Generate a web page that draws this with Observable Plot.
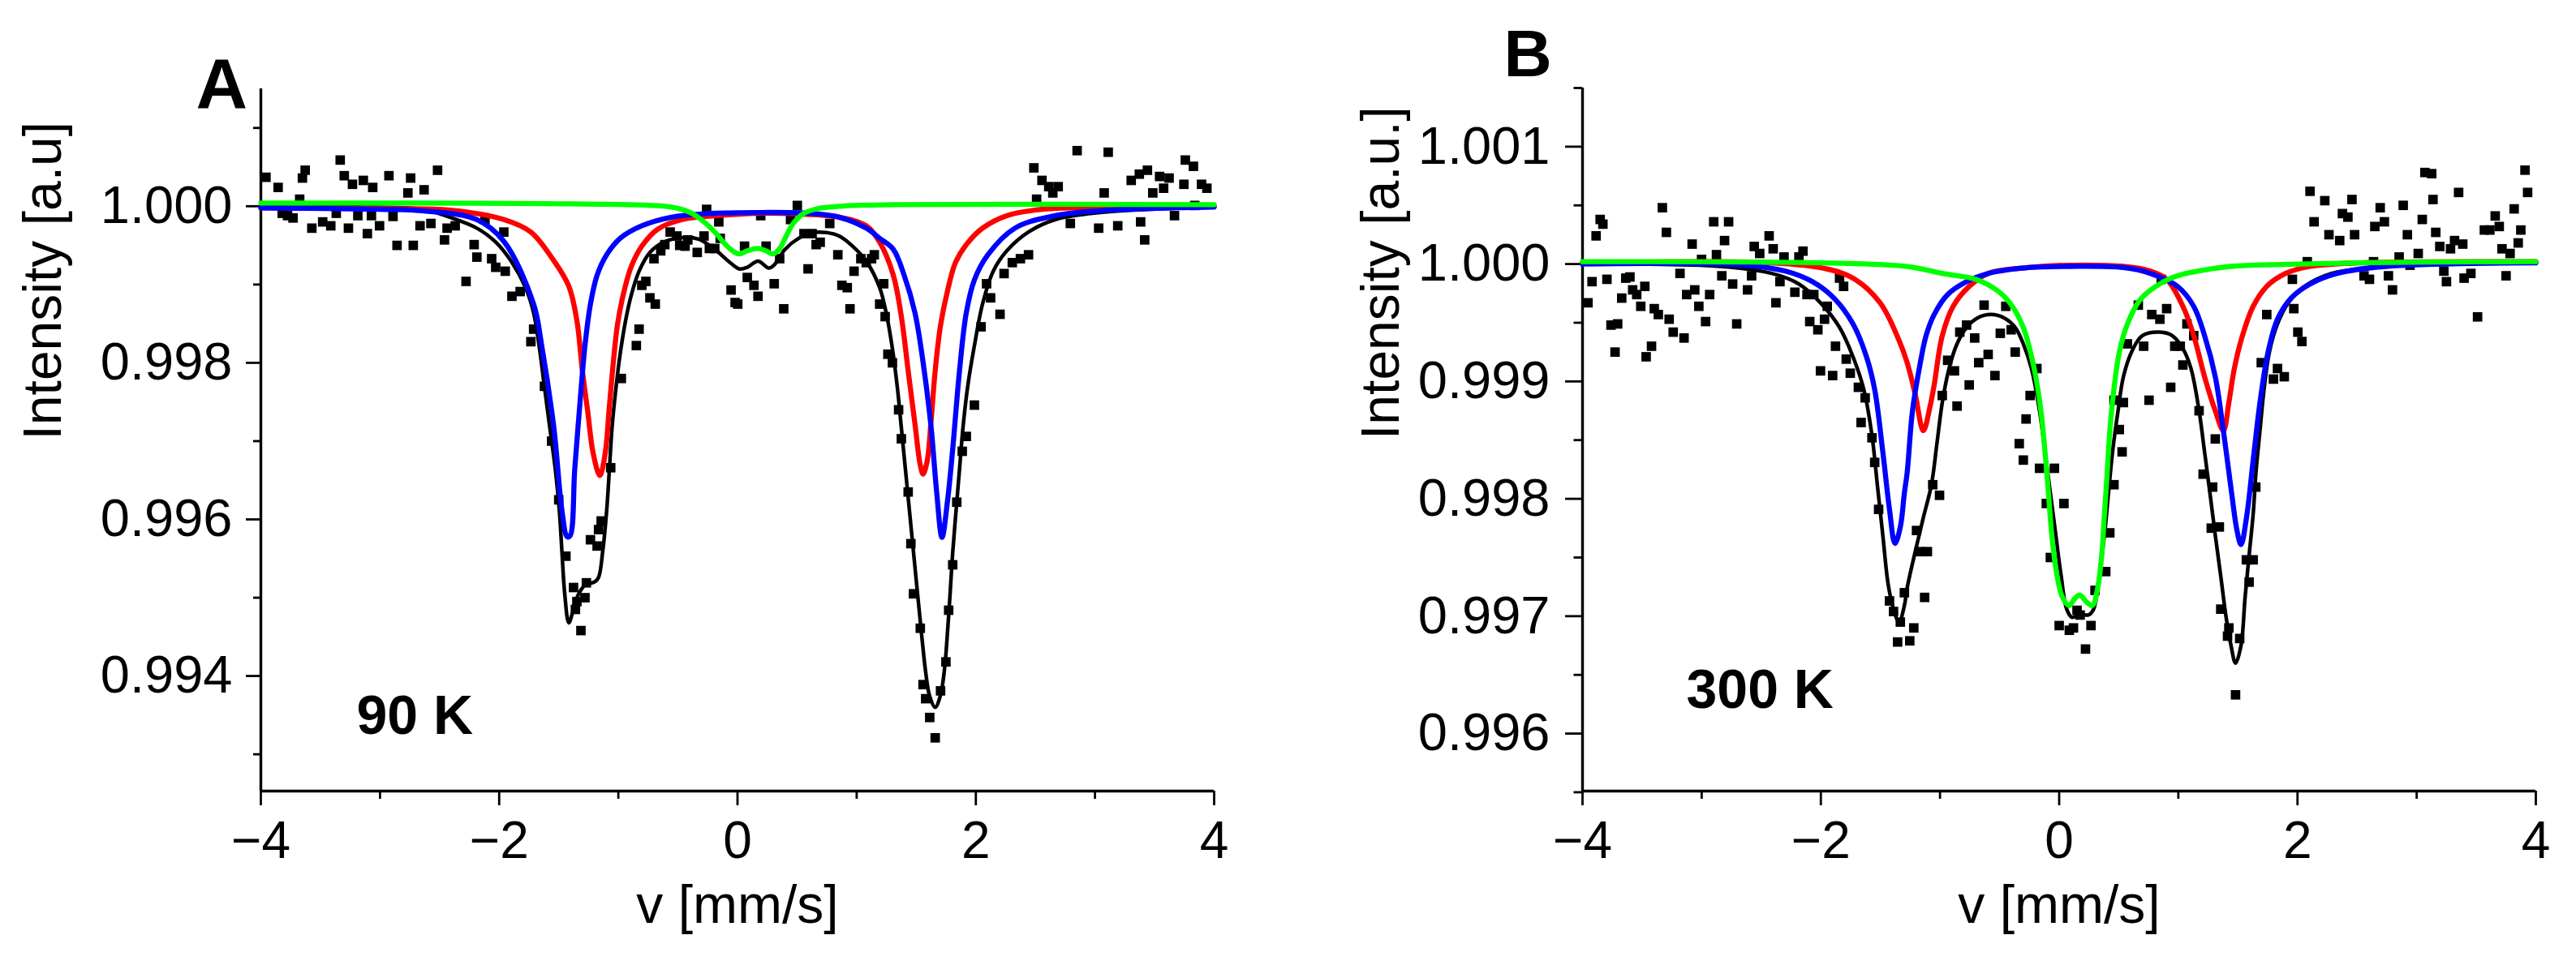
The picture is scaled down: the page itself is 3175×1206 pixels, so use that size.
<!DOCTYPE html>
<html>
<head>
<meta charset="utf-8">
<script src="https://cdn.jsdelivr.net/npm/d3@7"></script>
<script src="https://cdn.jsdelivr.net/npm/@observablehq/plot@0.6"></script>
<style>
  body { margin: 0; background: #fff; }
  #wrap { position: relative; width: 3175px; height: 1206px; }
  #chartA, #chartB { position: absolute; top: 0; }
  #chartA { left: 0; }
  #chartB { left: 1590px; }
</style>
</head>
<body>
<div id="wrap"><div id="chartA"></div><div id="chartB"></div></div>
<script>
// velocity axis, same for both spectra
const velDomain = [-4, 4]
const velTicks = [-4, -2, 0, 2, 4]
const velMinor = [-3, -1, 1, 3]

// ---- A : 90 K ----
const intDomainA = [0.99253, 1.0015]
const intTicksA = [0.994, 0.996, 0.998, 1.000]
const intMinorA = [0.993, 0.995, 0.997, 0.999, 1.001]

// measured points [v, intensity]
const pointsA = [
  [-3.957,1.00037],[-3.855,1.00024],[-3.821,0.99991],[-3.776,0.99988],[-3.730,0.99985],[-3.674,1.00009],
  [-3.651,1.00036],[-3.628,1.00046],[-3.572,0.99972],[-3.481,0.99980],[-3.413,0.99975],[-3.367,0.99991],
  [-3.334,1.00059],[-3.300,1.00039],[-3.265,0.99972],[-3.231,1.00028],[-3.186,0.99988],[-3.140,1.00033],
  [-3.106,0.99965],[-3.072,0.99988],[-3.061,1.00024],[-3.004,0.99975],[-2.925,1.00039],[-2.891,0.99987],
  [-2.857,0.99950],[-2.766,1.00017],[-2.743,1.00036],[-2.721,0.99950],[-2.664,0.99975],[-2.630,1.00021],
  [-2.573,0.99978],[-2.517,1.00046],[-2.459,0.99957],[-2.437,0.99972],[-2.369,0.99975],[-2.278,0.99904],
  [-2.210,0.99951],[-2.187,0.99935],[-2.119,0.99983],[-2.063,0.99933],[-2.029,0.99922],[-1.961,0.99967],
  [-1.949,0.99917],[-1.893,0.99885],[-1.824,0.99891],[-1.734,0.99827],[-1.711,0.99843],[-1.620,0.99770],
  [-1.560,0.99700],[-1.500,0.99625],[-1.440,0.99553],[-1.376,0.99513],[-1.360,0.99485],[-1.348,0.99495],
  [-1.314,0.99458],[-1.280,0.99500],[-1.268,0.99519],[-1.234,0.99574],[-1.178,0.99566],[-1.166,0.99587],
  [-1.144,0.99598],[-1.064,0.99666],[-0.975,0.99780],[-0.849,0.99822],[-0.826,0.99843],[-0.803,0.99899],
  [-0.769,0.99904],[-0.735,0.99883],[-0.701,0.99933],[-0.690,0.99875],[-0.644,0.99943],[-0.610,0.99951],
  [-0.565,0.99967],[-0.508,0.99962],[-0.485,0.99950],[-0.440,0.99949],[-0.417,0.99957],[-0.338,0.99941],
  [-0.281,0.99962],[-0.259,0.99996],[-0.236,0.99946],[-0.191,0.99946],[-0.157,0.99980],[-0.145,0.99959],
  [-0.054,0.99893],[-0.020,0.99877],[0.002,0.99875],[0.059,0.99949],[0.082,0.99909],[0.138,0.99899],
  [0.172,0.99885],[0.195,0.99988],[0.240,0.99949],[0.308,0.99901],[0.354,0.99933],[0.388,0.99869],
  [0.445,0.99983],[0.502,1.00001],[0.558,0.99965],[0.592,0.99920],[0.626,0.99965],[0.660,0.99951],
  [0.694,0.99954],[0.774,0.99978],[0.842,0.99938],[0.876,0.99899],[0.921,0.99896],[0.944,0.99869],
  [0.978,0.99917],[1.035,0.99933],[1.080,0.99928],[1.125,0.99933],[1.148,0.99938],[1.193,0.99875],
  [1.227,0.99901],[1.239,0.99859],[1.262,0.99811],[1.300,0.99800],[1.352,0.99740],[1.375,0.99703],
  [1.432,0.99635],[1.455,0.99569],[1.477,0.99505],[1.534,0.99461],[1.557,0.99389],[1.579,0.99371],
  [1.613,0.99347],[1.659,0.99321],[1.704,0.99381],[1.749,0.99418],[1.772,0.99484],[1.806,0.99542],
  [1.840,0.99622],[1.886,0.99687],[1.920,0.99706],[1.988,0.99746],[2.044,0.99846],[2.090,0.99901],
  [2.124,0.99883],[2.203,0.99862],[2.237,0.99914],[2.306,0.99928],[2.374,0.99933],[2.442,0.99938],
  [2.487,1.00049],[2.510,1.00009],[2.555,1.00033],[2.612,1.00025],[2.646,1.00017],[2.691,1.00025],
  [2.793,0.99978],[2.850,1.00071],[3.031,0.99972],[3.077,1.00017],[3.111,1.00069],[3.191,0.99975],
  [3.304,1.00033],[3.372,1.00041],[3.383,0.99980],[3.417,0.99957],[3.440,1.00046],[3.485,1.00017],
  [3.542,1.00038],[3.576,1.00023],[3.622,1.00036],[3.667,0.99988],[3.746,1.00028],[3.758,1.00059],
  [3.826,1.00051],[3.837,1.00001],[3.894,1.00028],[3.939,1.00023]
]

// fitted envelope (black)
const fitA = [
  [-4,1.00000],[-3.2,0.99999],[-2.641,0.99996],[-2.414,0.99986],[-2.187,0.99972],[-2.028,0.99954],
  [-1.892,0.99928],[-1.779,0.99896],[-1.711,0.99864],[-1.665,0.99822],[-1.620,0.99769],[-1.575,0.99717],
  [-1.529,0.99664],[-1.495,0.99611],[-1.473,0.99558],[-1.450,0.99505],[-1.416,0.99468],[-1.382,0.99482],
  [-1.348,0.99500],[-1.280,0.99516],[-1.200,0.99520],[-1.166,0.99526],[-1.132,0.99558],[-1.098,0.99611],
  [-1.075,0.99664],[-1.053,0.99717],[-1.019,0.99769],[-0.985,0.99811],[-0.939,0.99854],[-0.894,0.99885],
  [-0.826,0.99917],[-0.735,0.99941],[-0.622,0.99954],[-0.463,0.99960],[-0.327,0.99958],[-0.191,0.99945],
  [-0.077,0.99930],[0.014,0.99920],[0.082,0.99922],[0.172,0.99930],[0.263,0.99921],[0.308,0.99925],
  [0.399,0.99945],[0.513,0.99959],[0.626,0.99966],[0.762,0.99966],[0.853,0.99962],[0.966,0.99949],
  [1.080,0.99930],[1.193,0.99896],[1.250,0.99862],[1.300,0.99818],[1.341,0.99769],[1.375,0.99717],
  [1.409,0.99664],[1.443,0.99611],[1.477,0.99558],[1.511,0.99505],[1.545,0.99453],[1.579,0.99405],
  [1.613,0.99374],[1.659,0.99360],[1.704,0.99376],[1.738,0.99410],[1.761,0.99453],[1.784,0.99505],
  [1.806,0.99558],[1.834,0.99611],[1.863,0.99664],[1.892,0.99717],[1.931,0.99769],[1.988,0.99822],
  [2.056,0.99875],[2.146,0.99917],[2.260,0.99943],[2.441,0.99967],[2.668,0.99983],[3.123,0.99993],
  [4,0.99999]
]

const redA = [
  [-4,0.99998],[-3,0.99997],[-2.414,0.99995],[-1.960,0.99983],[-1.734,0.99967],[-1.553,0.99933],
  [-1.416,0.99898],[-1.348,0.99854],[-1.302,0.99790],[-1.257,0.99738],[-1.212,0.99685],[-1.155,0.99656],
  [-1.110,0.99685],[-1.076,0.99743],[-1.042,0.99801],[-1.008,0.99848],[-0.962,0.99885],[-0.894,0.99922],
  [-0.803,0.99949],[-0.667,0.99971],[-0.463,0.99983],[-0.168,0.99988],[0.172,0.99991],[0.513,0.99990],
  [0.853,0.99986],[1.080,0.99975],[1.193,0.99954],[1.307,0.99912],[1.375,0.99859],[1.432,0.99790],
  [1.489,0.99722],[1.534,0.99669],[1.557,0.99658],[1.591,0.99674],[1.625,0.99727],[1.659,0.99790],
  [1.704,0.99848],[1.761,0.99891],[1.829,0.99928],[1.920,0.99951],[2.056,0.99972],[2.260,0.99988],
  [2.555,0.99996],[3.123,0.99999],[4,1.00000]
]

const blueA = [
  [-4,0.99998],[-3,0.99996],[-2.63,0.99994],[-2.19,0.99983],[-1.96,0.99955],[-1.711,0.99875],
  [-1.643,0.99822],[-1.541,0.99717],[-1.473,0.99611],[-1.430,0.99578],[-1.405,0.99579],[-1.366,0.99664],
  [-1.325,0.99743],[-1.280,0.99822],[-1.234,0.99875],[-1.178,0.99912],[-1.098,0.99938],[-0.985,0.99959],
  [-0.803,0.99975],[-0.553,0.99986],[-0.2,0.99991],[0.2,0.99992],[0.6,0.99991],[0.853,0.99986],
  [1.080,0.99972],[1.193,0.99959],[1.307,0.99945],[1.398,0.99912],[1.489,0.99864],[1.557,0.99801],
  [1.625,0.99717],[1.670,0.99637],[1.716,0.99577],[1.761,0.99622],[1.806,0.99690],[1.863,0.99790],
  [1.920,0.99864],[1.988,0.99906],[2.101,0.99938],[2.328,0.99972],[2.668,0.99988],[3.123,0.99995],
  [4,0.99999]
]

const greenA = [
  [-4,1.00004],[-1.4,1.00003],[-0.554,0.99999],[-0.395,0.99992],[-0.281,0.99980],[-0.191,0.99967],
  [-0.100,0.99951],[-0.032,0.99942],[0.014,0.99939],[0.082,0.99943],[0.172,0.99946],[0.240,0.99943],
  [0.297,0.99939],[0.354,0.99946],[0.399,0.99959],[0.467,0.99978],[0.558,0.99991],[0.672,0.99997],
  [0.853,1.00000],[1.307,1.00002],[4,1.00002]
]

// ---- B : 300 K ----
const intDomainB = [0.99551, 1.0015]
const intTicksB = [0.996, 0.997, 0.998, 0.999, 1.000, 1.001]
const intMinorB = [0.9955, 0.9965, 0.9975, 0.9985, 0.9995, 1.0005, 1.0015]

const pointsB = [
  [-3.954,0.99967],[-3.920,0.99985],[-3.886,1.00024],[-3.852,1.00038],[-3.829,1.00034],[-3.795,0.99987],
  [-3.761,0.99948],[-3.727,0.99925],[-3.705,0.99949],[-3.671,0.99971],[-3.637,0.99988],[-3.602,0.99989],
  [-3.579,0.99978],[-3.545,0.99974],[-3.511,0.99964],[-3.477,0.99981],[-3.466,0.99921],[-3.421,0.99930],
  [-3.398,0.99962],[-3.364,0.99957],[-3.330,1.00048],[-3.296,1.00027],[-3.273,0.99953],[-3.239,0.99942],
  [-3.182,0.99992],[-3.148,0.99937],[-3.126,0.99974],[-3.080,1.00017],[-3.058,0.99978],[-3.024,0.99964],
  [-3.001,1.00004],[-2.967,0.99951],[-2.933,0.99974],[-2.899,1.00036],[-2.876,1.00008],[-2.831,0.99990],
  [-2.808,1.00020],[-2.774,1.00036],[-2.740,0.99983],[-2.706,0.99949],[-2.615,0.99978],[-2.581,0.99990],
  [-2.559,1.00015],[-2.513,1.00009],[-2.434,1.00024],[-2.400,1.00013],[-2.377,0.99967],[-2.343,0.99985],
  [-2.309,1.00006],[-2.218,0.99976],[-2.184,1.00006],[-2.150,1.00011],[-2.116,0.99974],[-2.093,0.99951],
  [-2.059,0.99974],[-2.025,0.99944],[-2.003,0.99909],[-1.969,0.99953],[-1.946,0.99964],[-1.901,0.99905],
  [-1.877,0.99930],[-1.843,0.99988],[-1.809,0.99981],[-1.787,0.99919],[-1.753,0.99907],[-1.685,0.99895],
  [-1.662,0.99865],[-1.628,0.99886],[-1.571,0.99852],[-1.548,0.99831],[-1.515,0.99791],[-1.424,0.99713],
  [-1.390,0.99704],[-1.356,0.99678],[-1.333,0.99695],[-1.299,0.99720],[-1.254,0.99679],[-1.220,0.99690],
  [-1.197,0.99773],[-1.174,0.99755],[-1.129,0.99716],[-1.106,0.99755],[-1.061,0.99812],[-1.004,0.99803],
  [-0.981,0.99888],[-0.936,0.99918],[-0.879,0.99909],[-0.857,0.99879],[-0.834,0.99942],[-0.777,0.99948],
  [-0.755,0.99897],[-0.709,0.99937],[-0.675,0.99916],[-0.630,0.99965],[-0.596,0.99923],[-0.539,0.99905],
  [-0.494,0.99941],[-0.448,0.99964],[-0.403,0.99944],[-0.369,0.99925],[-0.335,0.99847],[-0.301,0.99833],
  [-0.278,0.99868],[-0.244,0.99888],[-0.187,0.99911],[-0.165,0.99826],[-0.108,0.99796],[-0.074,0.99750],
  [-0.040,0.99826],[0.000,0.99692],[0.040,0.99796],[0.085,0.99688],[0.120,0.99690],[0.150,0.99705],
  [0.176,0.99701],[0.221,0.99672],[0.267,0.99692],[0.301,0.99722],[0.391,0.99738],[0.425,0.99771],
  [0.460,0.99812],[0.460,0.99884],[0.505,0.99859],[0.528,0.99840],[0.539,0.99882],[0.573,0.99932],
  [0.664,0.99965],[0.709,0.99930],[0.754,0.99884],[0.777,0.99957],[0.845,0.99953],[0.857,0.99987],
  [0.902,0.99962],[0.936,0.99895],[0.970,0.99930],[1.016,0.99930],[1.038,0.99914],[1.072,0.99949],
  [1.129,0.99939],[1.174,0.99875],[1.208,0.99821],[1.276,0.99775],[1.288,0.99810],[1.310,0.99851],
  [1.344,0.99776],[1.356,0.99706],[1.413,0.99683],[1.424,0.99690],[1.480,0.99633],[1.515,0.99681],
  [1.571,0.99748],[1.594,0.99729],[1.628,0.99748],[1.650,0.99810],[1.696,0.99916],[1.742,0.99957],
  [1.798,0.99902],[1.832,0.99911],[1.889,0.99904],[1.957,0.99987],[1.969,0.99962],[2.003,0.99942],
  [2.037,0.99934],[2.082,1.00002],[2.105,1.00062],[2.139,1.00036],[2.229,1.00054],[2.264,1.00025],
  [2.354,1.00020],[2.377,1.00043],[2.423,1.00040],[2.457,1.00055],[2.479,1.00025],[2.558,0.99990],
  [2.604,0.99987],[2.638,1.00002],[2.649,1.00032],[2.694,1.00048],[2.729,1.00036],[2.763,0.99990],
  [2.797,0.99978],[2.853,1.00006],[2.887,1.00050],[2.922,1.00025],[2.944,0.99999],[3.013,1.00009],
  [3.047,1.00038],[3.069,1.00078],[3.126,1.00077],[3.137,1.00055],[3.160,1.00027],[3.194,1.00015],
  [3.228,0.99994],[3.250,0.99985],[3.284,1.00013],[3.318,1.00020],[3.352,1.00061],[3.387,1.00017],
  [3.398,0.99988],[3.455,0.99992],[3.511,0.99955],[3.568,1.00029],[3.614,1.00029],[3.659,1.00041],
  [3.693,1.00032],[3.716,1.00013],[3.750,0.99990],[3.784,1.00009],[3.818,1.00047],[3.852,1.00018],
  [3.874,1.00029],[3.909,1.00080],[3.931,1.00061]
]

const fitB = [
  [-4,1.00000],[-2.846,0.99998],[-2.411,0.99992],[-2.184,0.99983],[-2.003,0.99967],[-1.843,0.99946],
  [-1.730,0.99921],[-1.639,0.99893],[-1.571,0.99854],[-1.526,0.99812],[-1.480,0.99769],[-1.435,0.99727],
  [-1.390,0.99706],[-1.344,0.99695],[-1.299,0.99709],[-1.276,0.99724],[-1.208,0.99755],[-1.140,0.99784],
  [-1.072,0.99812],[-1.026,0.99847],[-0.981,0.99882],[-0.924,0.99911],[-0.857,0.99932],[-0.777,0.99946],
  [-0.687,0.99954],[-0.573,0.99957],[-0.460,0.99954],[-0.369,0.99946],[-0.301,0.99932],[-0.233,0.99911],
  [-0.165,0.99875],[-0.119,0.99840],[-0.074,0.99805],[-0.028,0.99769],[0.017,0.99734],[0.063,0.99706],
  [0.108,0.99699],[0.176,0.99702],[0.244,0.99701],[0.289,0.99706],[0.335,0.99734],[0.380,0.99769],
  [0.414,0.99805],[0.448,0.99840],[0.494,0.99875],[0.539,0.99904],[0.607,0.99925],[0.698,0.99939],
  [0.845,0.99942],[0.948,0.99939],[1.038,0.99928],[1.106,0.99911],[1.174,0.99875],[1.220,0.99840],
  [1.265,0.99805],[1.310,0.99769],[1.356,0.99734],[1.401,0.99699],[1.440,0.99676],[1.480,0.99660],
  [1.526,0.99675],[1.560,0.99716],[1.594,0.99752],[1.628,0.99787],[1.651,0.99822],[1.685,0.99858],
  [1.719,0.99893],[1.764,0.99925],[1.832,0.99949],[1.923,0.99967],[2.059,0.99981],[2.286,0.99992],
  [2.626,0.99997],[3.080,1.00000],[4,1.00001]
]

const redB = [
  [-4,1.00001],[-2.411,1.00001],[-1.957,0.99996],[-1.730,0.99988],[-1.503,0.99967],[-1.344,0.99935],
  [-1.276,0.99916],[-1.208,0.99889],[-1.140,0.99858],[-1.083,0.99879],[-1.049,0.99897],[-0.981,0.99939],
  [-0.890,0.99964],[-0.755,0.99981],[-0.596,0.99992],[-0.256,0.99997],[0.085,0.99999],[0.539,0.99998],
  [0.766,0.99994],[0.902,0.99987],[1.038,0.99964],[1.129,0.99939],[1.220,0.99904],[1.310,0.99875],
  [1.378,0.99858],[1.424,0.99882],[1.470,0.99911],[1.538,0.99939],[1.628,0.99964],[1.742,0.99981],
  [1.900,0.99992],[2.105,0.99998],[2.514,1.00001],[4,1.00002]
]

const blueB = [
  [-4,1.00000],[-2.638,0.99999],[-2.298,0.99994],[-2.071,0.99985],[-1.890,0.99971],[-1.730,0.99949],
  [-1.617,0.99921],[-1.548,0.99893],[-1.480,0.99840],[-1.424,0.99791],[-1.378,0.99762],[-1.333,0.99776],
  [-1.299,0.99805],[-1.276,0.99822],[-1.231,0.99875],[-1.174,0.99911],[-1.117,0.99939],[-1.049,0.99957],
  [-0.936,0.99974],[-0.777,0.99985],[-0.596,0.99992],[-0.256,0.99997],[0.085,0.99998],[0.539,0.99997],
  [0.766,0.99992],[0.993,0.99981],[1.129,0.99964],[1.220,0.99939],[1.310,0.99904],[1.378,0.99858],
  [1.447,0.99805],[1.492,0.99773],[1.526,0.99761],[1.572,0.99784],[1.628,0.99833],[1.685,0.99882],
  [1.753,0.99925],[1.832,0.99953],[1.946,0.99971],[2.105,0.99983],[2.331,0.99992],[2.740,0.99998],
  [4,1.00001]
]

const greenB = [
  [-4,1.00002],[-2,1.00001],[-1.276,0.99998],[-0.981,0.99992],[-0.698,0.99987],[-0.527,0.99978],
  [-0.414,0.99967],[-0.301,0.99946],[-0.210,0.99911],[-0.153,0.99875],[-0.119,0.99840],[-0.090,0.99805],
  [-0.062,0.99769],[-0.017,0.99734],[0.028,0.99716],[0.085,0.99709],[0.130,0.99715],[0.176,0.99718],
  [0.221,0.99713],[0.278,0.99709],[0.323,0.99724],[0.357,0.99752],[0.380,0.99787],[0.403,0.99822],
  [0.425,0.99858],[0.459,0.99893],[0.505,0.99925],[0.573,0.99949],[0.675,0.99969],[0.811,0.99981],
  [0.993,0.99990],[1.220,0.99995],[1.446,0.99998],[2.5,1.00001],[4,1.00002]
]

const font = "'Liberation Sans', Arial, Helvetica, sans-serif"
const fmtVel = d => d < 0 ? "\u2212" + Math.abs(d) : String(d)
const xy = {x: d => d[0], y: d => d[1]}

function spectrum(o) {
  return Plot.plot({
    width: o.width,
    height: 1206,
    marginLeft: o.marginLeft,
    marginRight: o.marginRight,
    marginTop: o.marginTop,
    marginBottom: 231,
    style: {fontFamily: font, color: "black", background: "white", overflow: "visible"},
    x: {domain: velDomain, label: null},
    y: {domain: o.domain, label: null},
    marks: [
      Plot.ruleX([velDomain[0]], {strokeWidth: 3.4}),
      Plot.ruleY([o.domain[0]], {strokeWidth: 3.4}),
      Plot.axisY({ticks: o.minor, tickSize: o.tick / 2, fill: "none", strokeWidth: 2.8}),
      Plot.axisY({ticks: o.ticks, tickSize: o.tick, tickPadding: o.pad, tickFormat: d3.format(".3f"),
        fontSize: 65, strokeWidth: 2.8, label: null}),
      Plot.axisX({ticks: velMinor, tickSize: 10, fill: "none", strokeWidth: 2.8}),
      Plot.axisX({ticks: velTicks, tickSize: 18, tickPadding: 19, tickFormat: fmtVel,
        fontSize: 64, strokeWidth: 2.8, label: null}),
      Plot.dot(o.points, {...xy, symbol: "square", r: 6.6, fill: "black"}),
      Plot.line(o.fit, {...xy, stroke: "black", strokeWidth: 4.5, curve: "catmull-rom"}),
      Plot.line(o.red, {...xy, stroke: "#ff0000", strokeWidth: 6.3, curve: "catmull-rom"}),
      Plot.line(o.blue, {...xy, stroke: "#0000ff", strokeWidth: 6.3, curve: "catmull-rom"}),
      Plot.line(o.green, {...xy, stroke: "#00ff00", strokeWidth: 6.3, curve: "catmull-rom"}),
      Plot.text(["v [mm/s]"], {frameAnchor: "bottom", lineAnchor: "middle", dy: 141, fontSize: 66, text: d => d}),
      Plot.text([o.yLabel], {frameAnchor: "left", lineAnchor: "middle", dx: o.labelDx, rotate: -90,
        fontSize: 66, text: d => d}),
      Plot.text([o.panel], {frameAnchor: "top-left", lineAnchor: "middle", dx: o.panelDx, dy: o.panelDy,
        fontSize: o.panelSize, fontWeight: "bold", text: d => d}),
      Plot.text([o.temp], {frameAnchor: "bottom-left", lineAnchor: "middle", textAnchor: "start",
        dx: o.tempDx, dy: o.tempDy, fontSize: 68, fontWeight: "bold", text: d => d})
    ]
  })
}

const chartA = spectrum({
  width: 1590, marginLeft: 321, marginRight: 94, marginTop: 109,
  domain: intDomainA, ticks: intTicksA, minor: intMinorA, tick: 18, pad: 17,
  points: pointsA, fit: fitA, red: redA, blue: blueA, green: greenA,
  yLabel: "Intensity [a.u]", labelDx: -268,
  panel: "A", panelDx: -80, panelDy: -5, panelSize: 88,
  temp: "90 K", tempDx: 118, tempDy: -92
})

const chartB = spectrum({
  width: 1585, marginLeft: 360, marginRight: 50, marginTop: 108,
  domain: intDomainB, ticks: intTicksB, minor: intMinorB, tick: 21, pad: 19,
  points: pointsB, fit: fitB, red: redB, blue: blueB, green: greenB,
  yLabel: "Intensity [a.u.]", labelDx: -248,
  panel: "B", panelDx: -97, panelDy: -41, panelSize: 82,
  temp: "300 K", tempDx: 128, tempDy: -124
})

d3.select('#chartA').append(() => chartA)
d3.select('#chartB').append(() => chartB)
</script>
</body>
</html>
